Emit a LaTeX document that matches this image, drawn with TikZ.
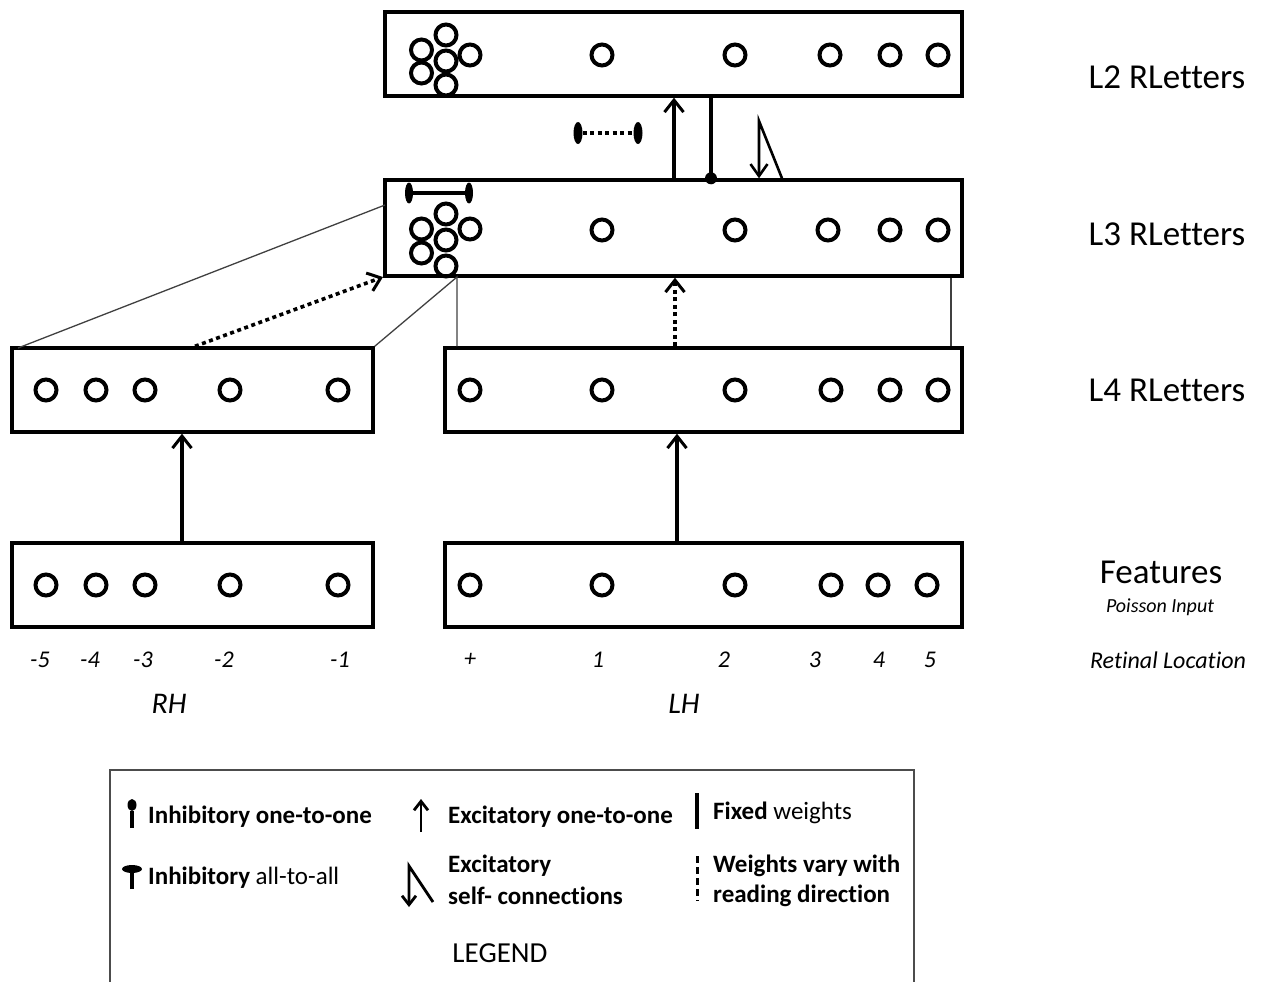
\documentclass[tikz,border=0pt]{standalone}
\usepackage{fontspec}
\setmainfont{Carlito}[Ligatures=NoCommon]
\usetikzlibrary{arrows.meta,calc,shapes.geometric}
\begin{document}
\begin{tikzpicture}[x=1pt,y=-1pt,
  layer/.style={draw,line width=3.4pt,inner sep=0pt,minimum width=#1},
  unit/.style={circle,draw,line width=4pt,minimum size=21pt,inner sep=0pt},
  thinline/.style={line width=1.3pt,draw=black!75},
  barb/.style={-{Straight Barb[length=12pt,width=19pt,line width=3pt]}},
  excite/.style={line width=3.4pt,barb},
  vary/.style={line width=3.6pt,dash pattern=on 4pt off 3.5pt},
  knob/.style={ellipse,fill=black,inner sep=0pt,minimum width=8pt,minimum height=21pt},
  hknob/.style={ellipse,fill=black,inner sep=0pt,minimum width=20pt,minimum height=8pt},
  lab/.style={font=\fontsize{35}{40}\selectfont},
  retpos/.style={font=\fontsize{24}{28}\selectfont\itshape},
  leg/.style={anchor=west,inner sep=0pt,font=\fontsize{25}{28}\selectfont\bfseries},
  legline/.style={line width=3.4pt},
]
\useasboundingbox (0,0) rectangle (1269,982);

% ---- layers ----
\node[layer=577pt,minimum height=84pt] (L2) at (673.5,54) {};
\node[layer=577pt,minimum height=96pt] (L3) at (673.5,228) {};
\node[layer=361pt,minimum height=84pt] (L4l) at (192.5,390) {};
\node[layer=517pt,minimum height=84pt] (L4r) at (703.5,390) {};
\node[layer=361pt,minimum height=84pt] (Fl) at (192.5,585) {};
\node[layer=517pt,minimum height=84pt] (Fr) at (703.5,585) {};

% ---- single units ----
\foreach \x [count=\i] in {602,735,830,890,938}
  \node[unit] (u2\i) at (\x,55) {};
\foreach \x [count=\i] in {602,735,828,890,938}
  \node[unit] (u3\i) at (\x,230) {};
\foreach \x [count=\i] in {470,602,735,831,890,938}
  \node[unit] (u4r\i) at (\x,390) {};
\foreach \x [count=\i] in {46,96,145,230,338}
  \node[unit] (u4l\i) at (\x,390) {};
\foreach \x [count=\i] in {470,602,735,831,878,927}
  \node[unit] (ufr\i) at (\x,585) {};
\foreach \x [count=\i] in {46,96,145,230,338}
  \node[unit] (ufl\i) at (\x,585) {};

% ---- clusters of units ----
\foreach \n/\dx/\dy in {a/0/-26,b/-24.5/-11,c/24/-6,d/0/0,e/-24.5/12,f/0/24}
  \node[unit] (k2\n) at ($(446,61)+(\dx,\dy)$) {};
\foreach \n/\dx/\dy in {a/0/-26,b/-24.5/-11,c/24/-11,d/0/0,e/-24.5/13,f/0/26}
  \node[unit] (k3\n) at ($(446,240)+(\dx,\dy)$) {};

% ---- inhibitory all-to-all inside L3 ----
\node[knob] (ia) at (409,193) {};
\node[knob] (ib) at (469,193) {};
\draw[line width=3.6pt] (ia) -- (ib);

% ---- varying inhibition between L2 and L3 ----
\node[knob,minimum width=9pt,minimum height=22pt] (va) at (578,133) {};
\node[knob,minimum width=9pt,minimum height=22pt] (vb) at (638,133) {};
\draw[vary] (va) -- (vb);

% ---- L3 -> L2 connections ----
\coordinate (e3) at (L3.north -| 674,0);
\coordinate (e2) at (L2.south -| 674,0);
\draw[excite] (e3) -- (e2);
\coordinate (f2) at (L2.south -| 711,0);
\coordinate (f3) at (L3.north -| 711,0);
\draw[line width=3.4pt] (f2) -- (f3);
\fill (f3) circle (6pt);
\coordinate (s0) at (L3.north -| 782,0);
\coordinate (s1) at (759,121);
\coordinate (s2) at (L3.north -| 759,0);
\draw[line width=2.6pt,-{Straight Barb[length=12pt,width=17pt,line width=2.6pt]}] (s0) -- (s1) -- (s2);

% ---- L4 -> L3 fan-in ----
\coordinate (t1) at (18,348);
\coordinate (t2) at (385,205);
\draw[thinline] (t1) -- (t2);
\coordinate (t3) at (L4l.north east);
\coordinate (t4) at (457,277);
\draw[thinline] (t3) -- (t4) -- (t4 |- L4r.north);
\draw[thinline] (L3.south -| 951,0) -- (L4r.north -| 951,0);
\coordinate (d1) at (L4l.north -| 195,0);
\coordinate (d2) at (383,277);
\draw[vary,barb] (d1) -- (d2);
\draw[vary,barb] (L4r.north -| 675,0) -- (L3.south -| 675,0);

% ---- feature -> L4 ----
\draw[excite] (Fl.north -| 182,0) -- (L4l.south -| 182,0);
\draw[excite] (Fr.north -| 677,0) -- (L4r.south -| 677,0);

% ---- layer names ----
\node[lab] (n2) at (1167,77) {L2 RLetters};
\node[lab] (n3) at (1167,234) {L3 RLetters};
\node[lab] (n4) at (1167,390) {L4 RLetters};
\node[lab] (nf) at (1161,572) {Features};
\node[font=\fontsize{20}{24}\selectfont\itshape] (np) at (1160,607) {Poisson Input};

% ---- retinal locations ----
\foreach \x/\t [count=\i] in {40/-5,90/-4,143/-3,224/-2,340/-1,470/+,598/1,724/2,815/3,879/4,930/5}
  \node[retpos] (r\i) at (\x,660) {\t};
\node[retpos] (rl) at (1168,660) {Retinal Location};
\node[font=\fontsize{30}{34}\selectfont\itshape] (rh) at (169,704) {RH};
\node[font=\fontsize{30}{34}\selectfont\itshape] (lh) at (684,704) {LH};

% ---- legend ----
\draw[line width=1.6pt,draw=black!70] (110,990) -- (110,770) -- (914,770) -- (914,990);
% inhibitory one-to-one
\coordinate (g1a) at (132,828);
\node[ellipse,fill=black,inner sep=0pt,minimum width=9pt,minimum height=12pt] (g1b) at (132,805) {};
\draw[legline] (g1a) -- (g1b);
\node[leg] (g1) at (148,817) {Inhibitory one-to-one};
% inhibitory all-to-all
\coordinate (g2a) at (132,889);
\node[hknob] (g2b) at (132,869) {};
\draw[legline] (g2a) -- (g2b);
\node[leg] (g2) at (148,878) {Inhibitory \mdseries all-to-all};
% excitatory one-to-one
\coordinate (g3a) at (421,832);
\coordinate (g3b) at (421,799);
\draw[line width=2.8pt,-{Straight Barb[length=9pt,width=14pt,line width=2.8pt]}] (g3a) -- (g3b);
\node[leg] (g3) at (448,817) {Excitatory one-to-one};
% excitatory self-connections
\coordinate (g4a) at (433,902);
\coordinate (g4b) at (409,866);
\coordinate (g4c) at (409,907);
\draw[line width=2.8pt,-{Straight Barb[length=9pt,width=14pt,line width=2.8pt]}] (g4a) -- (g4b) -- (g4c);
\node[leg] (g4) at (448,866) {Excitatory};
\node[leg] (g5) at (448,896) {self- connections};
% fixed weights
\coordinate (g6a) at (697,793);
\coordinate (g6b) at (697,829);
\draw[legline] (g6a) -- (g6b);
\node[leg] (g6) at (713,813) {Fixed \mdseries weights};
% weights that vary
\coordinate (g7a) at (697,856);
\coordinate (g7b) at (697,901);
\draw[line width=3pt,dash pattern=on 7pt off 4pt] (g7a) -- (g7b);
\node[leg] (g7) at (713,866) {Weights vary with};
\node[leg] (g8) at (713,896) {reading direction};
\node[font=\fontsize{29}{34}\selectfont] (lg) at (500,953) {LEGEND};
\end{tikzpicture}
\end{document}
